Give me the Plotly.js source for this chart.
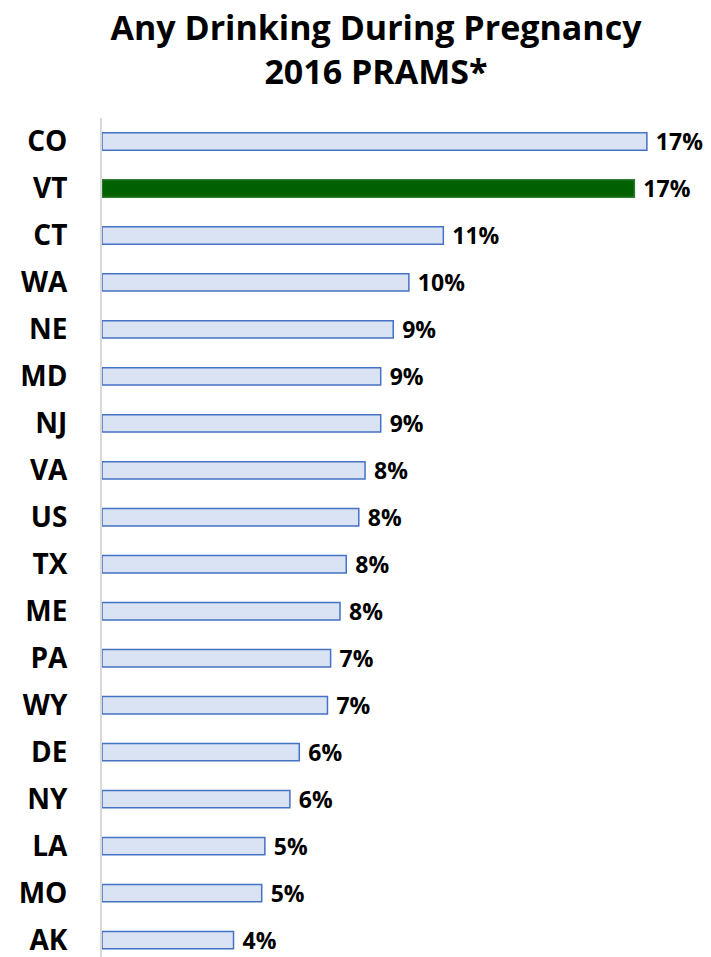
<!DOCTYPE html>
<html>
<head>
<meta charset="utf-8">
<script src="https://cdn.plot.ly/plotly-3.0.1.min.js"></script>
<style>html,body{margin:0;padding:0;background:#fff;}#chart{width:711px;height:957px;}</style>
</head>
<body>
<div id="chart"></div>
<script>
const states = ["CO","VT","CT","WA","NE","MD","NJ","VA","US","TX","ME","PA","WY","DE","NY","LA","MO","AK"];
const pct = [17.4,17.0,10.9,9.8,9.3,8.9,8.9,8.4,8.2,7.8,7.6,7.3,7.2,6.3,6.0,5.2,5.1,4.2];
const highlight = "VT";

const fillColors = states.map(s => s === highlight ? "#006100" : "#dae3f3");
const lineColors = states.map(s => s === highlight ? "#2e7d32" : "#4472c4");
const labels = pct.map(v => " " + Math.round(v) + "%");

const trace = {
  type: "bar",
  orientation: "h",
  y: states,
  x: pct,
  text: labels,
  textposition: "outside",
  constraintext: "none",
  cliponaxis: false,
  textfont: {family: "Open Sans", size: 23, color: "#000", weight: 700},
  marker: {color: fillColors, line: {color: lineColors, width: 1.5}},
  hoverinfo: "none"
};

const layout = {
  width: 711,
  height: 957,
  margin: {l: 102, r: 14, t: 117.5, b: 0},
  paper_bgcolor: "#fff",
  plot_bgcolor: "#fff",
  bargap: 0.63,
  showlegend: false,
  title: {
    text: "<b>Any Drinking During Pregnancy</b><br><b>2016 PRAMS*</b>",
    font: {family: "Open Sans", size: 34, color: "#000"},
    xref: "container", x: 376/711, xanchor: "center",
    yref: "container", y: 1 - 40/957, yanchor: "middle"
  },
  xaxis: {
    range: [0, 19],
    showgrid: false, zeroline: false, showticklabels: false, showline: false, ticks: ""
  },
  yaxis: {
    type: "category",
    categoryorder: "array",
    categoryarray: states,
    range: [17.36, -0.5],
    showgrid: false, zeroline: false,
    showline: true, linecolor: "#d9d9d9", linewidth: 2,
    ticks: "", ticklabelstandoff: 27,
    tickfont: {family: "Open Sans", size: 28, color: "#000", weight: 700}
  }
};

Plotly.newPlot("chart", [trace], layout, {displayModeBar: false, staticPlot: true});
</script>
</body>
</html>
